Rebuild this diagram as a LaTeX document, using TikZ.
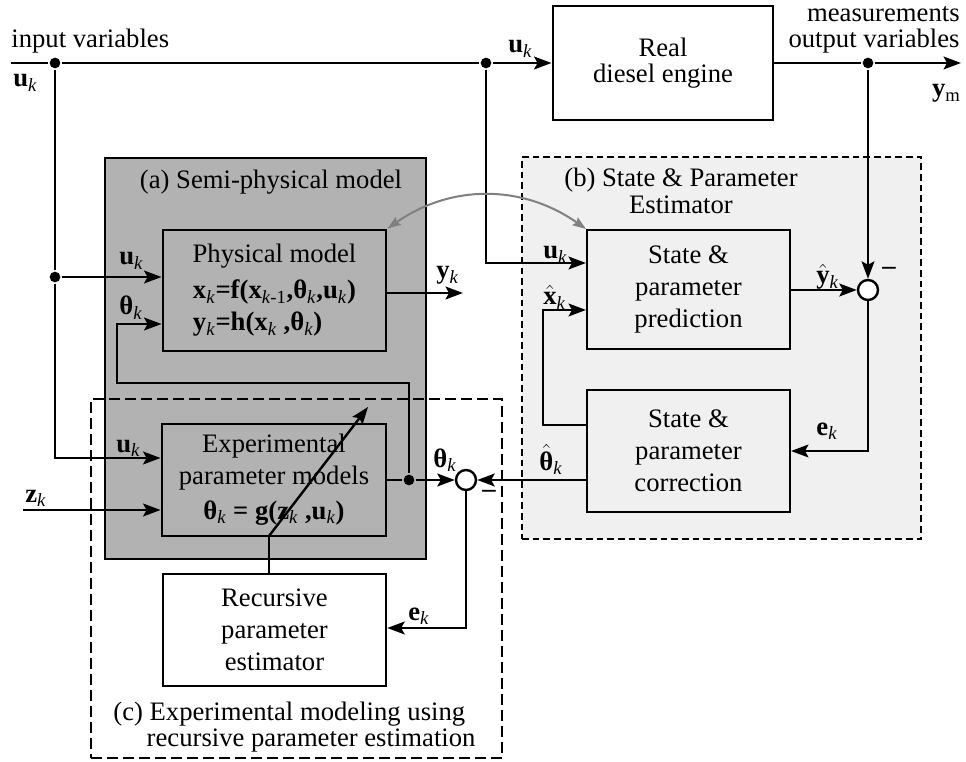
\documentclass[tikz,border=0pt]{standalone}
\usepackage{fontspec}
\setmainfont{Liberation Serif}
\usetikzlibrary{arrows.meta,calc,fit,positioning}

\newlength{\eqfw}
\newcommand{\sk}{\textsubscript{\textit{k}}}
\newcommand{\bv}[1]{\textbf{#1}\sk}
\newcommand{\hv}[1]{$\hat{\mbox{\textbf{#1}}}$\sk}
\newcommand{\eqf}{\bv{x}\textbf{=f(x}\textsubscript{\textit{k}-1}\textbf{,θ}\sk\textbf{,u}\sk\textbf{)}}
\newcommand{\eqh}{\bv{y}\textbf{=h(x}\sk\textbf{ ,θ}\sk\textbf{)}}

\begin{document}
\begin{tikzpicture}[
      x=0.75pt, y=-0.75pt,
      font=\fontsize{20}{24}\selectfont,
      line width=2.1pt,
      >={Stealth[length=13pt,width=9.5pt,inset=2.5pt]},
      blk/.style={rectangle,draw,inner sep=0pt,align=center,line width=2.2pt},
      thinblk/.style={blk,line width=1.5pt},
      region/.style={rectangle,inner sep=0pt},
      dot/.style={circle,fill,inner sep=0pt,minimum size=8pt},
      sum/.style={circle,draw,fill=white,inner sep=0pt,minimum size=15pt,line width=1.8pt},
      lbl/.style={inner sep=0pt},
      ttl/.style={inner sep=0pt,align=center,font=\fontsize{20}{20}\selectfont}
    ]
    \useasboundingbox (0,0) rectangle (966,762);

    % regions (a) and (b)
    \node[region,draw,line width=2.2pt,fill=black!30,fit={(105,158) (426,559)}] (semi) {};
    \node[ttl,anchor=base] (semilbl) at (271,189) {(a) Semi-physical model};
    \node[region,draw,fill=black!6,line width=1.2pt,dash pattern=on 5pt off 3pt,fit={(522,157) (921,539)}] (est) {};
    \node[ttl] (estlbl) at (681,191) {(b) State \& Parameter\\Estimator};

    % blocks
    \node[blk,fill=white,minimum width=165pt,minimum height=85.5pt,font=\fontsize{20}{20}\selectfont] (eng) at (663,63) {Real\\diesel engine};
    \node[blk,fill=black!30,minimum width=167.25pt,minimum height=90.75pt] (phys) at (274.5,290.5)
      {Physical model\\[3pt]\eqf\\\settowidth{\eqfw}{\eqf}\makebox[\eqfw][l]{\eqh}};
    \node[blk,fill=black!30,minimum width=168pt,minimum height=84pt] (exp) at (274,480)
      {Experimental\\parameter models\\[2pt]\textbf{θ}\sk\textbf{ = g(z}\sk\textbf{ ,u}\sk\textbf{)}};
    \node[blk,fill=white,line width=1.8pt,minimum width=167.25pt,minimum height=84pt] (rec) at (274.5,630) {Recursive\\parameter\\estimator};
    \node[thinblk,fill=black!6,minimum width=152.25pt,minimum height=89.25pt] (pred) at (688.5,289.5) {State \&\\parameter\\prediction};
    \node[thinblk,fill=black!6,minimum width=152.25pt,minimum height=91.5pt] (corr) at (688.5,451) {State \&\\parameter\\correction};

    % junctions and sums
    \node[dot] (d1) at (55,63) {};
    \node[dot] (d2) at (486,63) {};
    \node[dot] (d3) at (868,63) {};
    \node[dot] (d4) at (55,277) {};
    \node[dot] (d5) at (409,480) {};
    \node[sum] (s1) at (466,480) {};
    \node[sum] (s2) at (868,290) {};

    \coordinate (uin) at (11,63);
    \coordinate (yout) at (961,63);
    \coordinate (uexp) at (55,458);
    \coordinate (zin) at (23,510);
    \coordinate (yk) at (463,293);
    \coordinate (fbA) at (117,383);
    \coordinate (thin) at (117,324);
    \coordinate (ek1) at (466,628);
    \coordinate (adj) at (269,536);
    \coordinate (adjtip) at (368,407);
    \coordinate (upr) at (486,263);
    \coordinate (xc) at (543,425);
    \coordinate (xh) at (543,310);

    % input and output lines
    \draw[->] (uin) -- (d1) -- (d2) -- (eng);
    \draw[->] (eng) -- (d3) -- (yout);
    \node[lbl,anchor=base west] at (10,48) {input variables};
    \node[lbl,anchor=base west] at (12,87) {\bv{u}};
    \node[lbl,anchor=base west] at (507,53) {\bv{u}};
    \node[lbl,anchor=east,align=right,font=\fontsize{20}{19}\selectfont] at (961,30) {measurements\\output variables};
    \node[lbl,anchor=base east] at (962,97) {\textbf{y}\textsubscript{m}};

    % semi-physical model
    \draw (d1) -- (d4);
    \draw[->] (d4) -- (d4 -| phys.west);
    \draw[->] (d4) -- (uexp) -- (uexp -| exp.west);
    \draw[->] (zin) -- (zin -| exp.west);
    \draw[->] (yk -| phys.east) -- (yk);
    \draw[->] (d5) |- (fbA) -- (thin) -- (thin -| phys.west);
    \draw[->] (exp.east) -- (d5) -- (s1);
    \node[lbl,anchor=base west] at (118,265) {\bv{u}};
    \node[lbl,anchor=base west] at (118,315) {\bv{θ}};
    \node[lbl,anchor=base west] at (435,279) {\bv{y}};
    \node[lbl,anchor=base west] at (115,452) {\bv{u}};
    \node[lbl,anchor=base west] at (24,502) {\bv{z}};
    \node[lbl,anchor=base west] at (432,467) {\bv{θ}};

    % recursive estimation
    \draw[->] (s1 -| corr.west) -- (s1);
    \draw[->] (s1) -- (ek1) -- (ek1 -| rec.east);
    \draw[line width=1.8pt] (rec.north -| adj) -- (adj);
    \draw[->,line width=1.8pt] (adj) -- (adjtip);
    \node[lbl] (m1) at (489,494) {\textbf{–}};
    \node[lbl,anchor=base west] at (538,470) {\hv{θ}};
    \node[lbl,anchor=base west] at (407,620) {\bv{e}};

    % state and parameter estimator
    \draw[->] (d2) -- (upr) -- (upr -| pred.west);
    \draw[->] (d3) -- (s2);
    \draw[->] (s2 -| pred.east) -- (s2);
    \draw[->] (s2) |- (corr.east);
    \draw[->] (xc -| corr.west) -- (xc) -- (xh) -- (xh -| pred.west);
    \draw[<->,gray,line width=1.5pt,>={Stealth[length=10pt,width=7pt,inset=1.5pt]}] (phys.north east) to[bend left=35] (pred.north west);
    \node[lbl] (m2) at (889,271) {\textbf{–}};
    \node[lbl,anchor=base west] at (542,259) {\bv{u}};
    \node[lbl,anchor=base west] at (542,305) {\hv{x}};
    \node[lbl,anchor=base west] at (815,284) {\hv{y}};
    \node[lbl,anchor=base west] at (815,435) {\bv{e}};

    % region (c)
    \node[region,draw,line width=1.6pt,dash pattern=on 8pt off 4pt,fit={(91,399) (502,758)}] (expmod) {};
    \node[lbl,anchor=west,align=left,font=\fontsize{20}{19}\selectfont] (expmodlbl) at (112,727) {(c) Experimental modeling using\\\hspace*{25pt}recursive parameter estimation};
  \end{tikzpicture}
\end{document}
